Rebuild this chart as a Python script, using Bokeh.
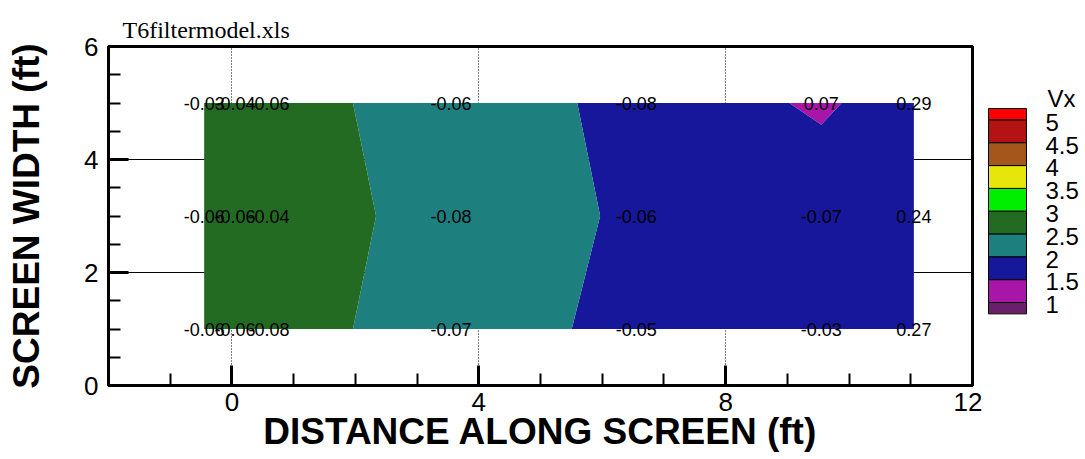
import numpy as np
from bokeh.plotting import figure
from bokeh.layouts import row
from bokeh.models import Range1d, FixedTicker
from bokeh.core.properties import value
from bokeh.embed import file_html
from bokeh.resources import INLINE

# ---- data ----
x_cols = [-0.45, 0.05, 0.6, 3.55, 6.55, 9.55, 11.05]
y_rows = [1, 3, 5]
vx_row1 = [2.76, 2.80, 2.80, 2.15, 1.92, 1.85, 1.80]
vx_row3 = [2.75, 2.78, 2.80, 2.29, 1.93, 1.88, 1.80]
vx_row5 = [2.78, 2.80, 2.80, 2.15, 1.93, 1.41, 1.82]
lab_row1 = ["-0.06", "-0.06", "-0.08", "-0.07", "-0.05", "-0.03", "0.27"]
lab_row3 = ["-0.06", "-0.06", "-0.04", "-0.08", "-0.06", "-0.07", "0.24"]
lab_row5 = ["-0.03", "-0.04", "-0.06", "-0.06", "-0.08", "0.07", "0.29"]
levels = [0, 1, 1.5, 2, 2.5, 3, 3.5, 4, 4.5, 5, 6]
palette = ["#6B1F6B", "#A816A8", "#17179C", "#1E7F7F", "#236B23",
           "#00EE00", "#E6E60A", "#A5561A", "#B31313", "#FF0000"]
legend_labels = ["5", "4.5", "4", "3.5", "3", "2.5", "2", "1.5", "1"]
x_ticks = [0, 4, 8, 12]
x_minor = [-1, 1, 2, 3, 5, 6, 7, 9, 10, 11]
y_ticks = [0, 2, 4, 6]
y_minor = [0.5, 1, 1.5, 2.5, 3, 3.5, 4.5, 5, 5.5]

SANS = "Liberation Sans"

p = figure(width=982, height=459, x_range=Range1d(-2, 12), y_range=Range1d(0, 6),
           output_backend="svg", toolbar_location=None,
           min_border_left=108, min_border_right=10, min_border_top=46, min_border_bottom=74,
           title="T6filtermodel.xls")
p.background_fill_color = "white"
p.border_fill_color = "white"
p.outline_line_color = "black"
p.outline_line_width = 3

p.title.text_font = "Liberation Serif"
p.title.text_font_size = "24px"
p.title.text_font_style = "normal"
p.title.text_color = "black"
p.title.align = "left"
p.title.offset = 14
p.title.standoff = 8

z = np.array([vx_row1, vx_row3, vx_row5])
p.contour(x_cols, y_rows, z, levels, fill_color=palette, line_color=None)

xs, ys, ts = [], [], []
for yv, labs in zip(y_rows, [lab_row1, lab_row3, lab_row5]):
    for xv, t in zip(x_cols, labs):
        xs.append(xv); ys.append(yv); ts.append(t)
p.text(x=xs, y=ys, text=ts, text_align="center", text_baseline="middle",
       text_font=value(SANS), text_font_size="18px", text_color="black")

for ax in (p.xaxis[0], p.yaxis[0]):
    ax.axis_line_width = 3
    ax.axis_line_color = "black"
    ax.major_tick_in = 20
    ax.major_tick_out = 0
    ax.minor_tick_in = 12
    ax.minor_tick_out = 0
    ax.major_tick_line_width = 3
    ax.minor_tick_line_width = 2
    ax.major_label_text_font = SANS
    ax.major_label_text_font_size = "26px"
    ax.major_label_text_color = "black"
    ax.axis_label_text_font = SANS
    ax.axis_label_text_font_size = "37px"
    ax.axis_label_text_font_style = "bold"
    ax.axis_label_text_color = "black"
p.xaxis.major_label_standoff = 7
p.yaxis.major_label_standoff = 10
p.xaxis.axis_label = "DISTANCE ALONG SCREEN (ft)"
p.yaxis.axis_label = "SCREEN WIDTH (ft)"
p.xaxis.axis_label_standoff = -3
p.yaxis.axis_label_standoff = 34
p.xaxis.ticker = FixedTicker(ticks=x_ticks, minor_ticks=x_minor)
p.yaxis.ticker = FixedTicker(ticks=y_ticks, minor_ticks=y_minor)

p.xgrid.ticker = FixedTicker(ticks=[0, 4, 8])
p.xgrid.grid_line_color = "black"
p.xgrid.grid_line_dash = "1 2"
p.xgrid.grid_line_width = 1
p.ygrid.ticker = FixedTicker(ticks=[2, 4])
p.ygrid.grid_line_color = "black"
p.ygrid.grid_line_width = 1

# ---- legend panel ----
leg = figure(width=103, height=459, x_range=Range1d(982, 1085), y_range=Range1d(459, 0),
             output_backend="svg", toolbar_location=None, min_border=0,
             x_axis_location=None, y_axis_location=None)
leg.outline_line_color = None
leg.grid.visible = False
leg.background_fill_color = "white"
leg.border_fill_color = "white"

bounds = [84] + [99.5 + 30.9 * i for i in range(9)] + [362]
leg.quad(left=988, right=1026, top=bounds[:-1], bottom=bounds[1:],
         fill_color=palette[::-1], line_color="black", line_width=1)
leg.text(x=[1045] * len(legend_labels), y=[b + 3 for b in bounds[1:-1]], text=legend_labels,
         text_align="left", text_baseline="middle", text_font=value(SANS),
         text_font_size="24px", text_color="black")
leg.text(x=[1047], y=[70], text=["Vx"], text_align="left", text_baseline="middle",
         text_font=value(SANS), text_font_size="24px", text_color="black")

layout = row(p, leg)
open("out.html", "w").write(file_html(layout, INLINE))
